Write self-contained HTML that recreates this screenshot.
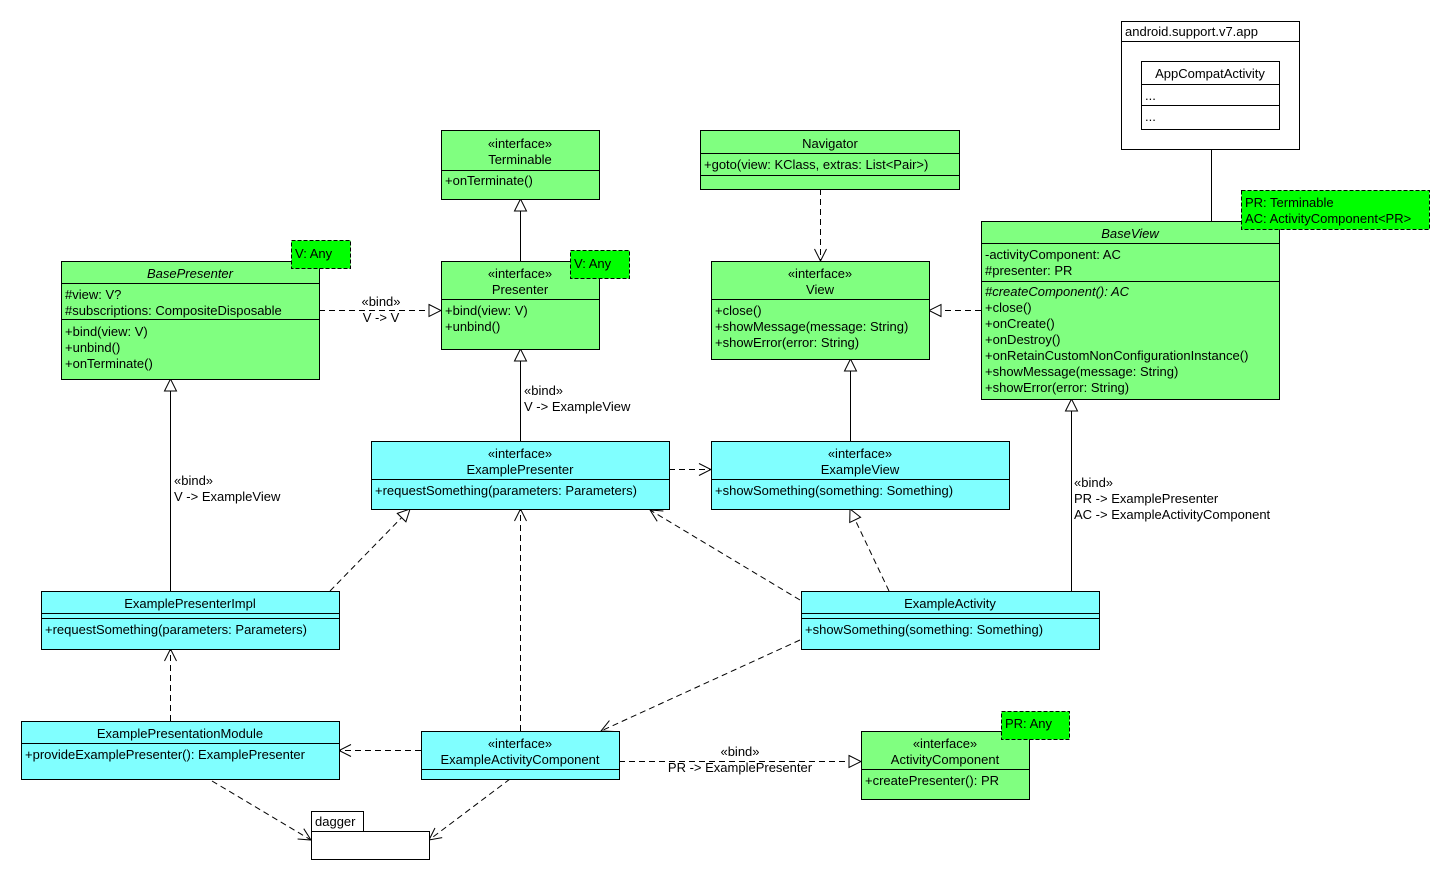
<!DOCTYPE html>
<html><head><meta charset="utf-8"><style>
html,body{margin:0;padding:0;background:#fff;}
svg{display:block;font-family:"Liberation Sans",Arial,sans-serif;font-size:13px;}
</style></head><body>
<svg width="1450" height="880" viewBox="0 0 1450 880" xmlns="http://www.w3.org/2000/svg">
<defs>
<marker id="tri" viewBox="0 0 14 14" refX="13" refY="7" markerWidth="14" markerHeight="14" markerUnits="userSpaceOnUse" orient="auto"><path d="M1,1 L13,7 L1,13 Z" fill="#fff" stroke="#000" stroke-width="1"/></marker>
<marker id="arr" viewBox="0 0 14 14" refX="13" refY="7" markerWidth="14" markerHeight="14" markerUnits="userSpaceOnUse" orient="auto"><path d="M1,1 L13,7 L1,13" fill="none" stroke="#000" stroke-width="1"/></marker>
</defs>
<g fill="none" stroke="#000" stroke-width="1">
<!-- connectors -->
<line x1="520.5" y1="261" x2="520.5" y2="199" marker-end="url(#tri)"/>
<line x1="319" y1="310.5" x2="441" y2="310.5" stroke-dasharray="6,4" marker-end="url(#tri)"/>
<line x1="820.5" y1="189" x2="820.5" y2="261" stroke-dasharray="6,4" marker-end="url(#arr)"/>
<line x1="981" y1="310.5" x2="929" y2="310.5" stroke-dasharray="6,4" marker-end="url(#tri)"/>
<line x1="1211.5" y1="221" x2="1211.5" y2="129" marker-end="url(#tri)"/>
<line x1="520.5" y1="441" x2="520.5" y2="349" marker-end="url(#tri)"/>
<line x1="850.5" y1="441" x2="850.5" y2="359" marker-end="url(#tri)"/>
<line x1="669" y1="469.5" x2="711" y2="469.5" stroke-dasharray="6,4" marker-end="url(#arr)"/>
<line x1="170.5" y1="591" x2="170.5" y2="379" marker-end="url(#tri)"/>
<line x1="330" y1="591" x2="410" y2="509" stroke-dasharray="6,4" marker-end="url(#tri)"/>
<line x1="800" y1="600" x2="650" y2="510" stroke-dasharray="6,4" marker-end="url(#arr)"/>
<line x1="889" y1="591" x2="850" y2="509" stroke-dasharray="6,4" marker-end="url(#tri)"/>
<line x1="1071.5" y1="591" x2="1071.5" y2="399" marker-end="url(#tri)"/>
<line x1="800" y1="640" x2="601" y2="731" stroke-dasharray="6,4" marker-end="url(#arr)"/>
<line x1="520.5" y1="731" x2="520.5" y2="509" stroke-dasharray="6,4" marker-end="url(#arr)"/>
<line x1="421" y1="750.5" x2="339" y2="750.5" stroke-dasharray="6,4" marker-end="url(#arr)"/>
<line x1="170.5" y1="721" x2="170.5" y2="649" stroke-dasharray="6,4" marker-end="url(#arr)"/>
<line x1="212" y1="781" x2="311" y2="840" stroke-dasharray="6,4" marker-end="url(#arr)"/>
<line x1="510" y1="779" x2="429" y2="840" stroke-dasharray="6,4" marker-end="url(#arr)"/>
<line x1="619" y1="761.5" x2="861" y2="761.5" stroke-dasharray="6,4" marker-end="url(#tri)"/>
</g>
<g stroke="#000" stroke-width="1">
<!-- Terminable -->
<rect x="441.5" y="130.5" width="158" height="69" fill="#80ff80"/>
<line x1="441" y1="170.5" x2="599" y2="170.5"/>
<!-- Navigator -->
<rect x="700.5" y="130.5" width="259" height="59" fill="#80ff80"/>
<line x1="700" y1="153.5" x2="959" y2="153.5"/>
<line x1="700" y1="175.5" x2="959" y2="175.5"/>
<!-- BasePresenter -->
<rect x="61.5" y="261.5" width="258" height="118" fill="#80ff80"/>
<line x1="61" y1="283.5" x2="319" y2="283.5"/>
<line x1="61" y1="319.5" x2="319" y2="319.5"/>
<rect x="291.5" y="240.5" width="59" height="28" fill="#00ff00" stroke-dasharray="4,2"/>
<!-- Presenter -->
<rect x="441.5" y="261.5" width="158" height="88" fill="#80ff80"/>
<line x1="441" y1="299.5" x2="599" y2="299.5"/>
<rect x="570.5" y="250.5" width="59" height="28" fill="#00ff00" stroke-dasharray="4,2"/>
<!-- View -->
<rect x="711.5" y="261.5" width="218" height="98" fill="#80ff80"/>
<line x1="711" y1="299.5" x2="929" y2="299.5"/>
<!-- BaseView -->
<rect x="981.5" y="221.5" width="298" height="178" fill="#80ff80"/>
<line x1="981" y1="243.5" x2="1279" y2="243.5"/>
<line x1="981" y1="281.5" x2="1279" y2="281.5"/>
<rect x="1241.5" y="190.5" width="188" height="39" fill="#00ff00" stroke-dasharray="4,2"/>
<!-- package android -->
<rect x="1121.5" y="21.5" width="178" height="20" fill="#fff"/>
<rect x="1121.5" y="41.5" width="178" height="108" fill="#fff"/>
<rect x="1141.5" y="61.5" width="138" height="68" fill="#fff"/>
<line x1="1141" y1="84.5" x2="1279" y2="84.5"/>
<line x1="1141" y1="105.5" x2="1279" y2="105.5"/>
<!-- ExamplePresenter -->
<rect x="371.5" y="441.5" width="298" height="68" fill="#80ffff"/>
<line x1="371" y1="479.5" x2="669" y2="479.5"/>
<!-- ExampleView -->
<rect x="711.5" y="441.5" width="298" height="68" fill="#80ffff"/>
<line x1="711" y1="479.5" x2="1009" y2="479.5"/>
<!-- ExamplePresenterImpl -->
<rect x="41.5" y="591.5" width="298" height="58" fill="#80ffff"/>
<line x1="41" y1="613.5" x2="339" y2="613.5"/>
<line x1="41" y1="618.5" x2="339" y2="618.5"/>
<!-- ExampleActivity -->
<rect x="801.5" y="591.5" width="298" height="58" fill="#80ffff"/>
<line x1="801" y1="613.5" x2="1099" y2="613.5"/>
<line x1="801" y1="618.5" x2="1099" y2="618.5"/>
<!-- ExamplePresentationModule -->
<rect x="21.5" y="721.5" width="318" height="58" fill="#80ffff"/>
<line x1="21" y1="743.5" x2="339" y2="743.5"/>
<!-- ExampleActivityComponent -->
<rect x="421.5" y="731.5" width="198" height="48" fill="#80ffff"/>
<line x1="421" y1="769.5" x2="619" y2="769.5"/>
<!-- ActivityComponent -->
<rect x="861.5" y="731.5" width="168" height="68" fill="#80ff80"/>
<line x1="861" y1="769.5" x2="1029" y2="769.5"/>
<rect x="1001.5" y="711.5" width="68" height="28" fill="#00ff00" stroke-dasharray="4,2"/>
<!-- dagger -->
<rect x="311.5" y="811.5" width="52" height="20" fill="#fff"/>
<rect x="311.5" y="831.5" width="118" height="28" fill="#fff"/>
</g>
<g fill="#000">
<g text-anchor="middle">
<text x="520" y="148">«interface»</text><text x="520" y="164">Terminable</text>
<text x="830" y="148">Navigator</text>
<text x="190" y="278" font-style="italic">BasePresenter</text>
<text x="520" y="278">«interface»</text><text x="520" y="294">Presenter</text>
<text x="820" y="278">«interface»</text><text x="820" y="294">View</text>
<text x="1130" y="238" font-style="italic">BaseView</text>
<text x="1210" y="78">AppCompatActivity</text>
<text x="520" y="458">«interface»</text><text x="520" y="474">ExamplePresenter</text>
<text x="860" y="458">«interface»</text><text x="860" y="474">ExampleView</text>
<text x="190" y="608">ExamplePresenterImpl</text>
<text x="950" y="608">ExampleActivity</text>
<text x="180" y="738">ExamplePresentationModule</text>
<text x="520" y="748">«interface»</text><text x="520" y="764">ExampleActivityComponent</text>
<text x="945" y="748">«interface»</text><text x="945" y="764">ActivityComponent</text>
<text x="381" y="306">«bind»</text><text x="381" y="322">V -&gt; V</text>
<text x="740" y="756">«bind»</text><text x="740" y="772">PR -&gt; ExamplePresenter</text>
</g>
<text x="1125" y="36">android.support.v7.app</text>
<text x="1145" y="100">...</text><text x="1145" y="121">...</text>
<text x="315" y="826">dagger</text>
<text x="445" y="185">+onTerminate()</text>
<text x="704" y="169">+goto(view: KClass, extras: List&lt;Pair&gt;)</text>
<text x="295" y="258">V: Any</text>
<text x="574" y="268">V: Any</text>
<text x="65" y="299">#view: V?</text><text x="65" y="315">#subscriptions: CompositeDisposable</text>
<text x="65" y="336">+bind(view: V)</text><text x="65" y="352">+unbind()</text><text x="65" y="368">+onTerminate()</text>
<text x="445" y="315">+bind(view: V)</text><text x="445" y="331">+unbind()</text>
<text x="715" y="315">+close()</text><text x="715" y="331">+showMessage(message: String)</text><text x="715" y="347">+showError(error: String)</text>
<text x="1245" y="207">PR: Terminable</text><text x="1245" y="223">AC: ActivityComponent&lt;PR&gt;</text>
<text x="985" y="259">-activityComponent: AC</text><text x="985" y="275">#presenter: PR</text>
<text x="985" y="296" font-style="italic">#createComponent(): AC</text>
<text x="985" y="312">+close()</text><text x="985" y="328">+onCreate()</text><text x="985" y="344">+onDestroy()</text>
<text x="985" y="360">+onRetainCustomNonConfigurationInstance()</text>
<text x="985" y="376">+showMessage(message: String)</text><text x="985" y="392">+showError(error: String)</text>
<text x="524" y="395">«bind»</text><text x="524" y="411">V -&gt; ExampleView</text>
<text x="174" y="485">«bind»</text><text x="174" y="501">V -&gt; ExampleView</text>
<text x="1074" y="487">«bind»</text><text x="1074" y="503">PR -&gt; ExamplePresenter</text><text x="1074" y="519">AC -&gt; ExampleActivityComponent</text>
<text x="375" y="495">+requestSomething(parameters: Parameters)</text>
<text x="715" y="495">+showSomething(something: Something)</text>
<text x="45" y="634">+requestSomething(parameters: Parameters)</text>
<text x="805" y="634">+showSomething(something: Something)</text>
<text x="25" y="759">+provideExamplePresenter(): ExamplePresenter</text>
<text x="865" y="785">+createPresenter(): PR</text>
<text x="1005" y="728">PR: Any</text>
</g>
</svg>
</body></html>
